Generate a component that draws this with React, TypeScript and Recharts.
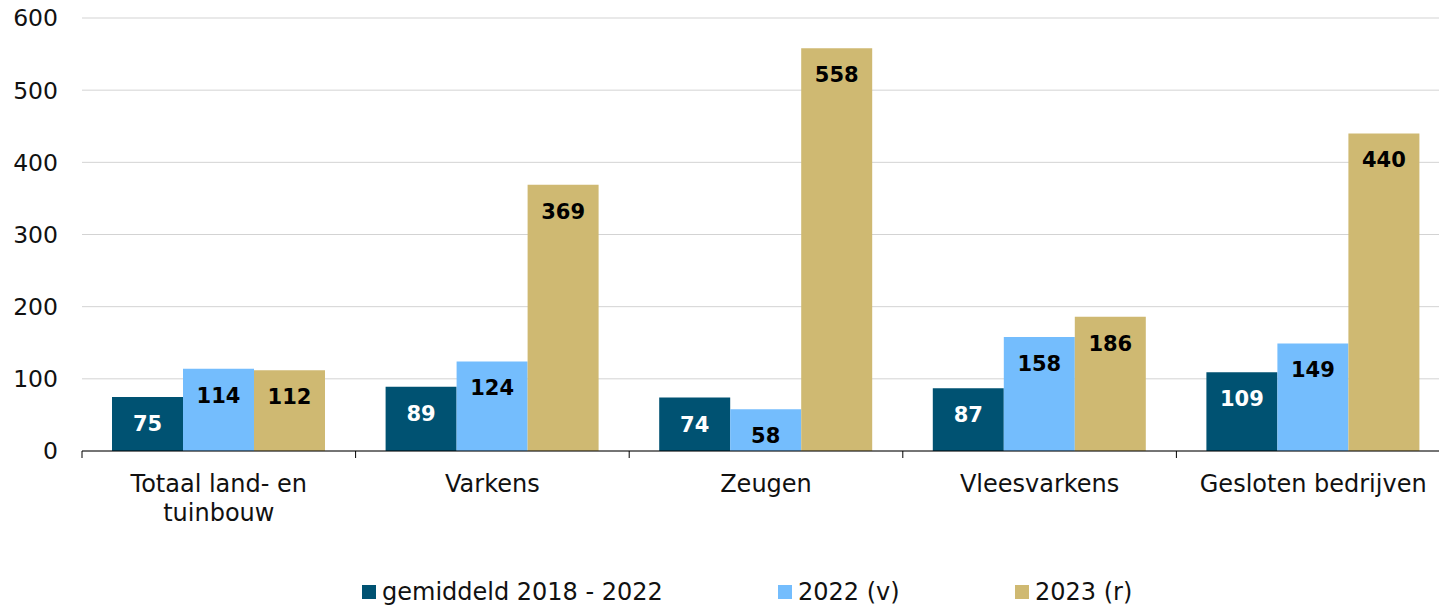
import React from "react";
import { BarChart, Bar, XAxis, YAxis, CartesianGrid, Legend, LabelList } from "recharts";

const categories = ["Totaal land- en tuinbouw", "Varkens", "Zeugen", "Vleesvarkens", "Gesloten bedrijven"];
const gemiddeld = [75, 89, 74, 87, 109];
const v2022 = [114, 124, 58, 158, 149];
const r2023 = [112, 369, 558, 186, 440];
const yTicks = [0, 100, 200, 300, 400, 500, 600];

const seriesNames = ["gemiddeld 2018 - 2022", "2022 (v)", "2023 (r)"];
const colors = ["#005272", "#74BDFD", "#CFB972"];
const labelColors = ["#ffffff", "#000000", "#000000"];

const data = categories.map((c, i) => ({
  name: c,
  gem: gemiddeld[i],
  v22: v2022[i],
  r23: r2023[i],
}));

const FONT = "'DejaVu Sans', Verdana, sans-serif";
const CAT_MARGIN = 24;
const CAT_FONT_SIZE = 24;
const CAT_MAX_WIDTH = 255;

let measureCtx: CanvasRenderingContext2D | null = null;
function measure(s: string): number {
  if (!measureCtx) {
    const c = document.createElement("canvas");
    measureCtx = c.getContext("2d");
  }
  if (!measureCtx) return s.length * CAT_FONT_SIZE * 0.6;
  measureCtx.font = `${CAT_FONT_SIZE}px 'DejaVu Sans'`;
  return measureCtx.measureText(s).width;
}

function wrap(s: string, max: number): string[] {
  const words = s.split(" ");
  const lines: string[] = [];
  let cur = "";
  for (const w of words) {
    const next = cur ? cur + " " + w : w;
    if (cur && measure(next) > max) {
      lines.push(cur);
      cur = w;
    } else {
      cur = next;
    }
  }
  if (cur) lines.push(cur);
  return lines;
}

const CatTick = (props: any) => {
  const { x, y, payload, width, visibleTicksCount } = props;
  const n = visibleTicksCount || categories.length;
  const half = typeof width === "number" ? width / n / 2 : 0;
  const axisY = y - CAT_MARGIN;
  const lines = wrap(String(payload.value), CAT_MAX_WIDTH);
  return (
    <g>
      {half > 0 && (
        <line x1={x - half} x2={x - half} y1={axisY} y2={axisY + 7} stroke="#000" strokeWidth={1} />
      )}
      <text x={x} y={y} textAnchor="middle" fontSize={CAT_FONT_SIZE} fill="#111" fontFamily={FONT}>
        {lines.map((l, i) => (
          <tspan key={i} x={x} dy={i === 0 ? "0.71em" : 29}>
            {l}
          </tspan>
        ))}
      </text>
    </g>
  );
};

const itemWidths = [416, 237, 200];

const renderLegend = () => (
  <div
    style={{
      height: 66,
      boxSizing: "border-box",
      paddingTop: 38,
      paddingLeft: 362,
      display: "flex",
      fontFamily: FONT,
      fontSize: 24,
      lineHeight: "26px",
      color: "#111",
    }}
  >
    {seriesNames.map((n, i) => (
      <div key={n} style={{ width: itemWidths[i], display: "flex", alignItems: "center", whiteSpace: "nowrap" }}>
        <span style={{ display: "inline-block", width: 14, height: 14, background: colors[i], marginRight: 6 }} />
        <span>{n}</span>
      </div>
    ))}
  </div>
);

export default function App() {
  const keys = ["gem", "v22", "r23"];
  return (
    <div style={{ position: "absolute", left: 0, top: 0, width: 1439, height: 606, overflow: "hidden", background: "#fff" }}>
      <BarChart
        width={1460}
        height={606}
        data={data}
        margin={{ top: 18, right: 10, left: 0, bottom: 0 }}
        barSize={71}
        barGap={0}
      >
        <CartesianGrid vertical={false} stroke="#d3d3d3" strokeWidth={1} />
        <XAxis
          dataKey="name"
          tick={<CatTick />}
          tickLine={false}
          tickSize={0}
          tickMargin={CAT_MARGIN}
          axisLine={{ stroke: "#000" }}
          interval={0}
          height={89}
        />
        <YAxis
          domain={[0, 600]}
          ticks={yTicks}
          width={82}
          axisLine={false}
          tickLine={false}
          tickSize={0}
          tickMargin={24}
          tick={{ fontSize: 23.5, fill: "#111", fontFamily: FONT }}
        />
        <Legend verticalAlign="bottom" align="left" content={renderLegend} wrapperStyle={{ left: 0, width: 1460, height: 66 }} />
        {keys.map((k, i) => (
          <Bar key={k} dataKey={k} name={seriesNames[i]} fill={colors[i]} isAnimationActive={false}>
            <LabelList
              dataKey={k}
              position="insideTop"
              offset={19}
              fill={labelColors[i]}
              fontSize={21}
              fontWeight="bold"
              fontFamily={FONT}
            />
          </Bar>
        ))}
      </BarChart>
    </div>
  );
}
